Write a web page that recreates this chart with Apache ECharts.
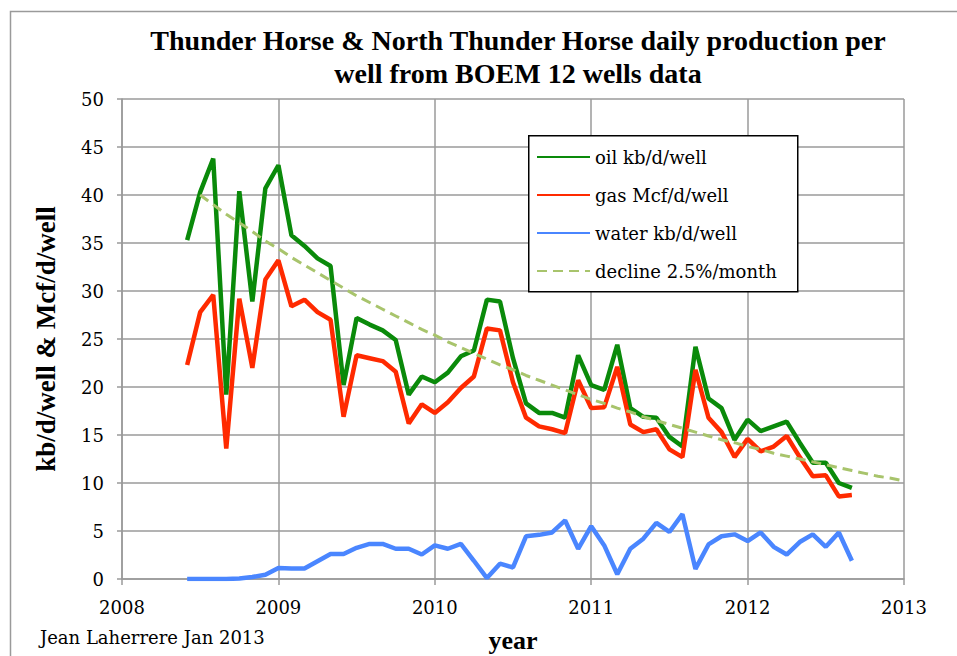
<!DOCTYPE html>
<html>
<head>
<meta charset="utf-8">
<script src="https://cdn.jsdelivr.net/npm/echarts@6/dist/echarts.min.js"></script>
<style>
  html, body { margin: 0; padding: 0; background: #fff; }
  #chart { width: 957px; height: 656px; }
</style>
</head>
<body>
<div id="chart"></div>
<script>
// monthly data, June 2008 .. September 2012
const months = [
  '2008-06', '2008-07', '2008-08', '2008-09', '2008-10', '2008-11', '2008-12',
  '2009-01', '2009-02', '2009-03', '2009-04', '2009-05', '2009-06',
  '2009-07', '2009-08', '2009-09', '2009-10', '2009-11', '2009-12',
  '2010-01', '2010-02', '2010-03', '2010-04', '2010-05', '2010-06',
  '2010-07', '2010-08', '2010-09', '2010-10', '2010-11', '2010-12',
  '2011-01', '2011-02', '2011-03', '2011-04', '2011-05', '2011-06',
  '2011-07', '2011-08', '2011-09', '2011-10', '2011-11', '2011-12',
  '2012-01', '2012-02', '2012-03', '2012-04', '2012-05', '2012-06',
  '2012-07', '2012-08', '2012-09'
];
const oil = [
  35.3, 40.3, 43.8, 19.2, 40.4, 28.9, 40.7,
  43.1, 35.8, 34.7, 33.4, 32.6, 20.2,
  27.2, 26.5, 25.9, 24.9, 19.2, 21.1,
  20.5, 21.5, 23.2, 23.8, 29.1, 28.9,
  23.0, 18.3, 17.3, 17.3, 16.8, 23.3,
  20.2, 19.7, 24.4, 17.8, 16.9, 16.8,
  14.8, 13.8, 24.2, 18.8, 17.8, 14.5,
  16.6, 15.4, 15.9, 16.4, 14.2, 12.1,
  12.1, 10.0, 9.5
];
const gas = [
  22.3, 27.8, 29.6, 13.6, 29.2, 22.0, 31.2,
  33.2, 28.4, 29.1, 27.8, 27.0, 16.9,
  23.3, 23.0, 22.7, 21.6, 16.2, 18.2,
  17.3, 18.4, 19.9, 21.1, 26.1, 25.9,
  20.5, 16.8, 15.9, 15.6, 15.2, 20.7,
  17.8, 17.9, 22.1, 16.1, 15.3, 15.6,
  13.5, 12.7, 21.8, 16.8, 15.3, 12.7,
  14.6, 13.3, 13.8, 14.9, 12.7, 10.7,
  10.8, 8.6, 8.75
];
const water = [
  0, 0, 0, 0, 0.05, 0.2, 0.45,
  1.15, 1.1, 1.1, 1.85, 2.6, 2.6,
  3.25, 3.65, 3.65, 3.15, 3.15, 2.55,
  3.5, 3.15, 3.65, 1.9, 0.1, 1.6,
  1.2, 4.45, 4.6, 4.85, 6.1, 3.15,
  5.5, 3.5, 0.5, 3.15, 4.2, 5.85,
  4.9, 6.75, 1.05, 3.6, 4.45, 4.65,
  3.95, 4.85, 3.35, 2.55, 3.85, 4.65,
  3.35, 4.85, 1.9
];
// decline line, July 2008 .. January 2013
const declineStart = '2008-07';
const decline = [
  40.0, 39.0, 38.0, 37.1, 36.2, 35.2, 34.4, 33.5, 32.7, 31.9, 31.1, 30.3,
  29.5, 28.8, 28.1, 27.4, 26.7, 26.0, 25.4, 24.7, 24.1, 23.5, 22.9, 22.3,
  21.8, 21.2, 20.7, 20.2, 19.7, 19.2, 18.7, 18.3, 17.8, 17.4, 16.9, 16.5,
  16.1, 15.7, 15.3, 14.9, 14.5, 14.2, 13.8, 13.5, 13.1, 12.8, 12.5, 12.2,
  11.9, 11.6, 11.3, 11.0, 10.7, 10.5, 10.2
];
const yearTicks = [2008, 2009, 2010, 2011, 2012, 2013];

function toYear(s) {
  const [y, m] = s.split('-').map(Number);
  return y + (m - 1) / 12;
}
const xs = months.map(toYear);
const pair = (vals) => vals.map((v, i) => [xs[i], v]);
const d0 = toYear(declineStart);
const declinePts = decline.map((v, i) => [d0 + i / 12, v]);

// regular Times face is not available here, DejaVu Serif stands in for it
const boldSerif = 'Liberation Serif';
const plainSerif = 'DejaVu Serif';
const gridGray = '#9a9a9a';
const plain = {fontFamily: plainSerif, fontSize: 18, color: '#000'};

const chart = echarts.init(document.getElementById('chart'), null, {renderer: 'svg'});
chart.setOption({
  animation: false,
  backgroundColor: '#fff',
  title: {
    text: 'Thunder Horse & North Thunder Horse daily production per\nwell from BOEM 12 wells data',
    left: 513,
    top: 19,
    textAlign: 'center',
    textStyle: {fontFamily: boldSerif, fontWeight: 'bold', fontSize: 28, lineHeight: 33, color: '#000'}
  },
  legend: {
    orient: 'vertical',
    left: 528,
    top: 135,
    padding: [13, 8, 6, 8],
    itemGap: 20,
    itemWidth: 53,
    itemHeight: 20,
    borderWidth: 0,
    itemStyle: {opacity: 0},
    textStyle: plain,
    data: ['oil kb/d/well', 'gas Mcf/d/well', 'water kb/d/well', 'decline 2.5%/month']
  },
  grid: {left: 122, right: 53, top: 99, bottom: 77, outerBoundsMode: 'none'},
  xAxis: {
    type: 'value',
    min: yearTicks[0],
    max: yearTicks[yearTicks.length - 1],
    interval: 1,
    name: 'year',
    nameLocation: 'middle',
    nameGap: 48,
    nameTextStyle: {fontFamily: boldSerif, fontWeight: 'bold', fontSize: 26, color: '#000'},
    axisLine: {lineStyle: {color: gridGray, width: 1.5}},
    axisTick: {show: true, length: 6, lineStyle: {color: gridGray, width: 1.5}},
    axisLabel: Object.assign({margin: 19, formatter: (v) => String(v)}, plain),
    splitLine: {show: true, lineStyle: {color: gridGray, width: 1.5}}
  },
  yAxis: {
    type: 'value',
    min: 0,
    max: 50,
    interval: 5,
    name: 'kb/d/well & Mcf/d/well',
    nameLocation: 'middle',
    nameGap: 63,
    nameTextStyle: {fontFamily: boldSerif, fontWeight: 'bold', fontSize: 27, color: '#000'},
    axisLine: {show: true, lineStyle: {color: gridGray, width: 1.5}},
    axisTick: {show: true, length: 5, lineStyle: {color: gridGray, width: 1.5}},
    axisLabel: Object.assign({margin: 18}, plain),
    splitLine: {show: true, lineStyle: {color: gridGray, width: 1.5}}
  },
  series: [
    {
      name: 'oil kb/d/well', type: 'line', data: pair(oil), symbol: 'none',
      lineStyle: {color: '#0a8a0a', width: 4.5}, itemStyle: {color: '#0a8a0a'}
    },
    {
      name: 'gas Mcf/d/well', type: 'line', data: pair(gas), symbol: 'none',
      lineStyle: {color: '#ff2a00', width: 4.5}, itemStyle: {color: '#ff2a00'}
    },
    {
      name: 'water kb/d/well', type: 'line', data: pair(water), symbol: 'none',
      lineStyle: {color: '#4a86ff', width: 4.5}, itemStyle: {color: '#4a86ff'}
    },
    {
      name: 'decline 2.5%/month', type: 'line', data: declinePts, symbol: 'none',
      lineStyle: {color: '#a8c46c', width: 3, type: [10, 6]}, itemStyle: {color: '#a8c46c'}
    }
  ],
  graphic: [
    {
      type: 'rect', left: 8, top: 9, silent: true, z: -10,
      shape: {width: 1000, height: 1000},
      style: {fill: 'none', stroke: '#9a9a9a', lineWidth: 1.5}
    },
    {
      // legend frame
      type: 'rect', left: 528, top: 135, silent: true, z: 3,
      shape: {width: 269, height: 156},
      style: {fill: '#fff', stroke: '#000', lineWidth: 1.5}
    },
    {
      type: 'text', left: 40, top: 628,
      style: {text: 'Jean Laherrere Jan 2013', fill: '#000', fontFamily: plainSerif, fontSize: 18}
    }
  ]
});
</script>
</body>
</html>
